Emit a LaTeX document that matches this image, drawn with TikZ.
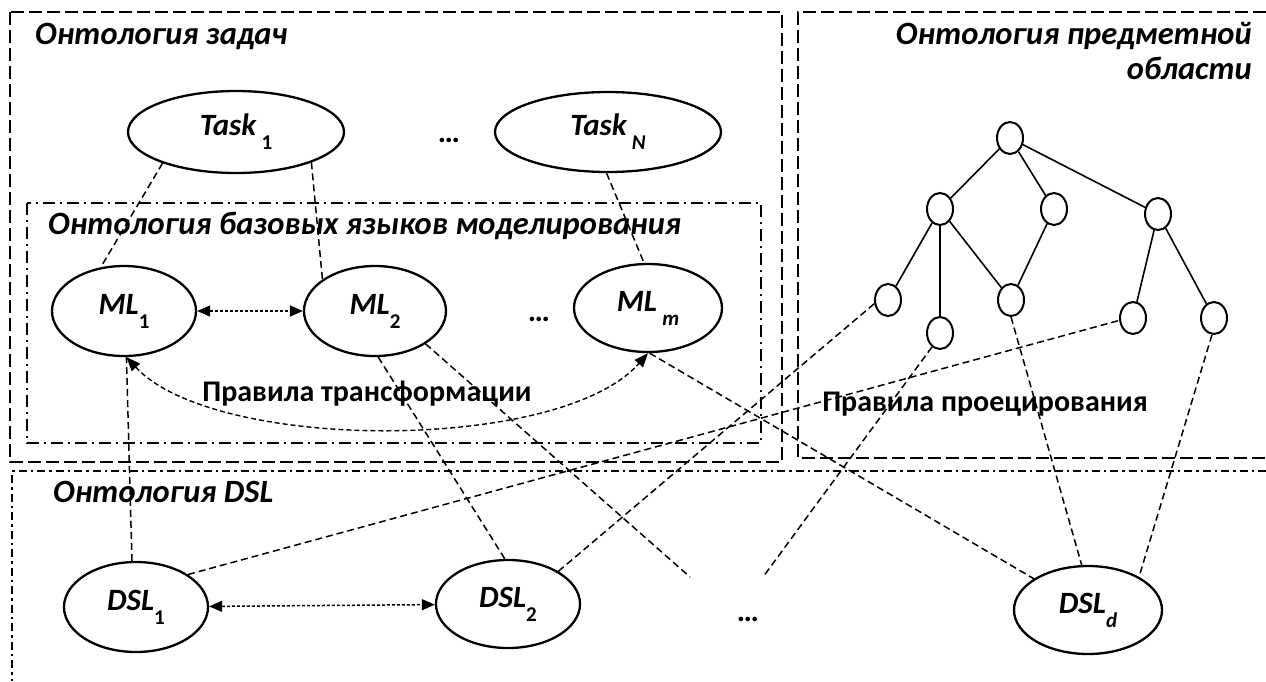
\documentclass[tikz,border=0pt]{standalone}
\usepackage{fontspec}
\setmainfont{Carlito}
\usetikzlibrary{shapes.geometric,arrows.meta}
\newcommand{\sbt}[1]{\raisebox{-0.45em}{\fontsize{21}{21}\selectfont\upshape #1}}
\tikzset{
  bigell/.style={ellipse, draw, line width=2.3pt, inner sep=0pt, font=\bfseries\itshape\fontsize{31}{31}\selectfont},
  tnode/.style={ellipse, draw, line width=2pt, minimum width=26pt, minimum height=32pt, inner sep=0pt},
  tedge/.style={line width=1.6pt},
  conn/.style={line width=1.5pt, dash pattern=on 7pt off 4pt},
  arrd/.style={line width=1.5pt, dash pattern=on 3pt off 2pt, {Triangle[length=13pt,width=11pt]}-{Triangle[length=13pt,width=11pt]}},
  arrc/.style={line width=1.4pt, dash pattern=on 5pt off 3pt, {Triangle[length=14pt,width=11pt]}-{Triangle[length=14pt,width=11pt]}},
  boxdash/.style={line width=2.3pt, dash pattern=on 13pt off 5pt},
  boxdd/.style={line width=2pt, dash pattern=on 12pt off 5pt on 2pt off 5pt},
  boxdsl/.style={line width=2.6pt, dash pattern=on 8pt off 4pt on 2.5pt off 4pt},
  head/.style={font=\bfseries\itshape\fontsize{32.5}{32.5}\selectfont, inner sep=0pt},
  rule/.style={font=\bfseries\fontsize{30}{30}\selectfont, inner sep=0pt},
  dots/.style={font=\bfseries\fontsize{31}{31}\selectfont, inner sep=0pt}
}
\begin{document}
\begin{tikzpicture}[x=1pt,y=-1pt]
\useasboundingbox (0,0) rectangle (1266,681);
\fill[white] (0,0) rectangle (1266,681);

% boxes
\draw[boxdash] (10,12) rectangle (782,462);
\draw[boxdd] (27,203) rectangle (761,443);
\draw[boxdash] (1266,12) -- (798,12) -- (798,458) -- (1266,458);
\draw[boxdsl] (1266,471) -- (12,471) -- (12,681);

% headings
\node[head, anchor=base west] (h1) at (35,44) {Онтология задач};
\node[head, anchor=base west] (h2) at (48,234) {Онтология базовых языков моделирования};
\node[head, anchor=base east] (h3) at (1252,44) {Онтология предметной};
\node[head, anchor=base east] (h3b) at (1252,79) {области};
\node[head, anchor=base west] (h4) at (53,502) {Онтология DSL};

% task nodes
\node[bigell, minimum width=216pt, minimum height=82pt] (t1) at (236,132) {Task\,\sbt{1}};
\node[bigell, minimum width=226pt, minimum height=80pt] (tn) at (608,132) {Task\,\sbt{\itshape N}};
\node[dots, anchor=base] (dt) at (449,142) {…};

% ML nodes
\node[bigell, minimum width=144pt, minimum height=90pt] (ml1) at (124,311) {ML\sbt{1}};
\node[bigell, minimum width=142pt, minimum height=90pt] (ml2) at (375,311) {ML\sbt{2}};
\node[bigell, minimum width=148pt, minimum height=88pt] (mlm) at (648,308) {ML\,\sbt{\itshape m}};
\node[dots, anchor=base] (dm) at (539,321) {…};

% DSL nodes
\node[bigell, minimum width=144pt, minimum height=90pt] (dsl1) at (136,607) {DSL\sbt{1}};
\node[bigell, minimum width=144pt, minimum height=88pt] (dsl2) at (508,604) {DSL\sbt{2}};
\node[bigell, minimum width=148pt, minimum height=88pt] (dsld) at (1088,610) {DSL\sbt{\itshape d}};
\node[dots, anchor=base] (dd) at (748,621) {…};

% tree
\node[tnode] (r) at (1010,138) {};
\node[tnode] (a) at (940,209) {};
\node[tnode] (b) at (1054,209) {};
\node[tnode] (c) at (1158,214) {};
\node[tnode] (a1) at (888,300) {};
\node[tnode] (a2) at (940,333) {};
\node[tnode] (a3) at (1011,300) {};
\node[tnode] (c1) at (1133,318) {};
\node[tnode] (c2) at (1214,318) {};
\draw[tedge] (r) -- (a);
\draw[tedge] (r) -- (b);
\draw[tedge] (r) -- (c);
\draw[tedge] (a) -- (a1);
\draw[tedge] (a) -- (a2);
\draw[tedge] (a) -- (a3);
\draw[tedge] (b) -- (a3);
\draw[tedge] (c) -- (c1);
\draw[tedge] (c) -- (c2);

% rule labels
\node[rule, anchor=base] (rt) at (367,401) {Правила трансформации};
\node[rule, anchor=base] (rp) at (985,411) {Правила проецирования};

% free ends
\coordinate (e1) at (690,577);
\coordinate (e2) at (763,577);

% dashed connectors
\draw[conn] (t1.-157) -- (ml1.118);
\draw[conn] (t1.-22) -- (ml2.149);
\draw[conn] (tn.-92) -- (mlm.95);
\draw[conn] (dsl1.95) -- (ml1.-87);
\draw[conn] (ml2.-86) -- (dsl2.94);
\draw[conn] (ml2.-33) -- (e1);
\draw[conn] (dsl1.32) -- (c1.190);
\draw[conn] (dsl2.33) -- (a1.195);
\draw[conn] (a2.-120) -- (e2);
\draw[conn] (a3.-90) -- (dsld.98);
\draw[conn] (c2.-97) -- (dsld.33);
\draw[conn] (mlm.-88) -- (dsld.150);

% arrows
\draw[arrd] (ml1) -- (ml2);
\draw[arrd] (dsl1) -- (dsl2);
\draw[arrc] (ml1.-87) .. controls +(88,95) and +(-88,100) .. (mlm.-90);
\end{tikzpicture}
\end{document}
